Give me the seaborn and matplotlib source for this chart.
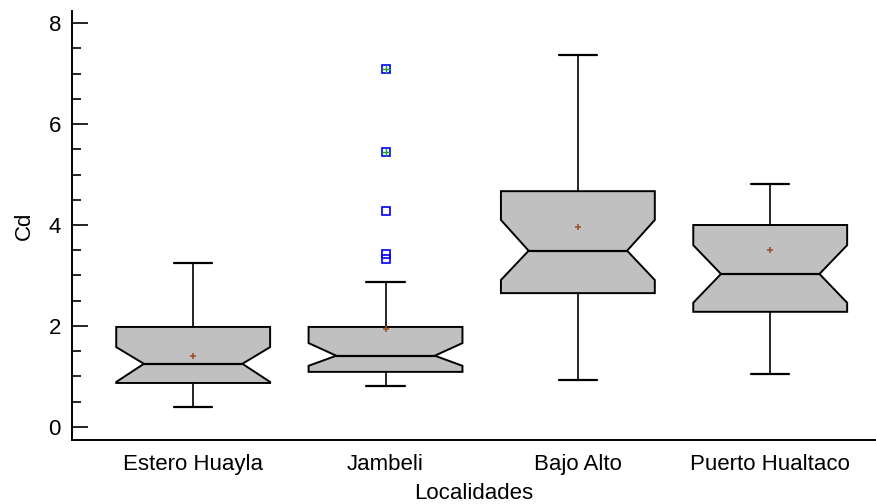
import matplotlib
matplotlib.use("Agg")
import matplotlib.pyplot as plt
from matplotlib.ticker import MultipleLocator
import numpy as np
import seaborn as sns

# ---- data ----
localidades = ["Estero Huayla", "Jambeli", "Bajo Alto", "Puerto Hualtaco"]
q1 = [0.87, 1.09, 2.65, 2.28]
medians = [1.25, 1.41, 3.49, 3.03]
q3 = [1.98, 1.98, 4.67, 4.00]
whisker_low = [0.40, 0.81, 0.93, 1.05]
whisker_high = [3.25, 2.87, 7.37, 4.81]
means = [1.41, 1.94, 3.96, 3.50]
notch_low = [0.89, 1.21, 2.91, 2.46]
notch_high = [1.58, 1.66, 4.10, 3.60]
outliers = [[], [7.09, 5.45, 4.28, 3.43, 3.33], [], []]
far_outlier_group = [1, 1]
far_outlier_values = [7.09, 5.45]

sns.set_style("ticks")
plt.rcParams["font.family"] = ["Liberation Sans", "DejaVu Sans"]
plt.rcParams["text.color"] = "black"
plt.rcParams["axes.labelcolor"] = "black"
plt.rcParams["xtick.color"] = "black"
plt.rcParams["ytick.color"] = "black"
plt.rcParams["axes.edgecolor"] = "black"

fig = plt.figure(figsize=(8.76, 5.04), dpi=100)
ax = fig.add_axes([72 / 876, 64 / 504, 804 / 876, 429 / 504])

stats = []
for i, name in enumerate(localidades):
    stats.append(dict(label=name, med=medians[i], q1=q1[i], q3=q3[i],
                      whislo=whisker_low[i], whishi=whisker_high[i],
                      mean=means[i], fliers=outliers[i],
                      cilo=notch_low[i], cihi=notch_high[i]))

positions = list(range(len(localidades)))
box_width = 0.8
res = ax.bxp(stats, positions=positions, widths=box_width, capwidths=0.2,
             shownotches=True, patch_artist=True, showmeans=True, meanline=False,
             boxprops=dict(facecolor="#c0c0c0", edgecolor="black", linewidth=1.4),
             medianprops=dict(color="black", linewidth=1.6),
             whiskerprops=dict(color="black", linewidth=1.2),
             capprops=dict(color="black", linewidth=1.6),
             meanprops=dict(marker="+", markeredgecolor="#a0522d", markersize=5,
                            markeredgewidth=1.2),
             flierprops=dict(marker="s", markerfacecolor="none",
                             markeredgecolor="#0000ff", markersize=5.5,
                             markeredgewidth=1.2))

# widen the notch waist (median line) to match the reference style
scale = 1.28
for pos, patch, med in zip(positions, res["boxes"], res["medians"]):
    path = patch.get_path()
    v = path.vertices.copy()
    inner = np.isclose(np.abs(v[:, 0] - pos), box_width * 0.25)
    v[inner, 0] = pos + (v[inner, 0] - pos) * scale
    path.vertices = v
    xd = np.asarray(med.get_xdata(), dtype=float)
    med.set_xdata(pos + (xd - pos) * scale)

ax.plot(far_outlier_group, far_outlier_values, linestyle="none", marker="+",
        color="#22a022", markersize=6, markeredgewidth=1.0)

ax.set_xlim(-0.63, 3.55)
ax.set_ylim(-0.26, 8.24)
ax.yaxis.set_major_locator(MultipleLocator(2))
ax.yaxis.set_minor_locator(MultipleLocator(0.5))
ax.tick_params(axis="y", which="major", direction="in", length=11.5,
               width=1.2, labelsize=16, pad=8, colors="black")
ax.tick_params(axis="y", which="minor", direction="in", length=6.5, width=1.2,
               colors="black")
ax.tick_params(axis="x", length=0, labelsize=16, pad=10, colors="black")

sns.despine(ax=ax)
ax.spines["left"].set_linewidth(1.4)
ax.spines["bottom"].set_linewidth(1.4)

ax.set_xlabel("Localidades", fontsize=16, labelpad=6, color="black")
ax.set_ylabel("Cd", fontsize=16, labelpad=10, color="black")

fig.savefig("out.png", dpi=100)
